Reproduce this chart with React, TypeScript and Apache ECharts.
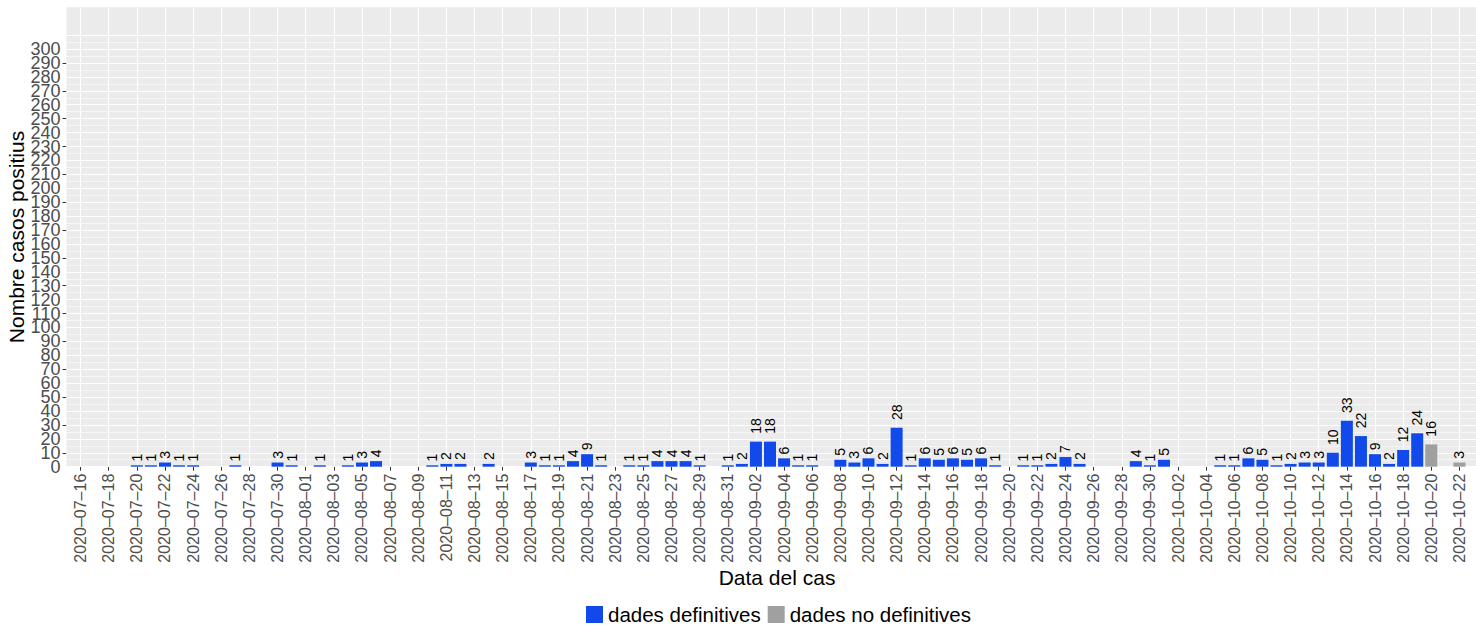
import React, { useEffect, useRef } from "react";
import * as echarts from "echarts";

const dates = [
  "2020-07-16","2020-07-17","2020-07-18","2020-07-19","2020-07-20","2020-07-21","2020-07-22","2020-07-23","2020-07-24","2020-07-25",
  "2020-07-26","2020-07-27","2020-07-28","2020-07-29","2020-07-30","2020-07-31","2020-08-01","2020-08-02","2020-08-03","2020-08-04",
  "2020-08-05","2020-08-06","2020-08-07","2020-08-08","2020-08-09","2020-08-10","2020-08-11","2020-08-12","2020-08-13","2020-08-14",
  "2020-08-15","2020-08-16","2020-08-17","2020-08-18","2020-08-19","2020-08-20","2020-08-21","2020-08-22","2020-08-23","2020-08-24",
  "2020-08-25","2020-08-26","2020-08-27","2020-08-28","2020-08-29","2020-08-30","2020-08-31","2020-09-01","2020-09-02","2020-09-03",
  "2020-09-04","2020-09-05","2020-09-06","2020-09-07","2020-09-08","2020-09-09","2020-09-10","2020-09-11","2020-09-12","2020-09-13",
  "2020-09-14","2020-09-15","2020-09-16","2020-09-17","2020-09-18","2020-09-19","2020-09-20","2020-09-21","2020-09-22","2020-09-23",
  "2020-09-24","2020-09-25","2020-09-26","2020-09-27","2020-09-28","2020-09-29","2020-09-30","2020-10-01","2020-10-02","2020-10-03",
  "2020-10-04","2020-10-05","2020-10-06","2020-10-07","2020-10-08","2020-10-09","2020-10-10","2020-10-11","2020-10-12","2020-10-13",
  "2020-10-14","2020-10-15","2020-10-16","2020-10-17","2020-10-18","2020-10-19","2020-10-20","2020-10-21","2020-10-22",
];

// dades definitives, aligned with dates (null = no bar)
const definitive: (number | null)[] = [
  null, null, null, null, 1, 1, 3, 1, 1, null,
  null, 1, null, null, 3, 1, null, 1, null, 1,
  3, 4, null, null, null, 1, 2, 2, null, 2,
  null, null, 3, 1, 1, 4, 9, 1, null, 1,
  1, 4, 4, 4, 1, null, 1, 2, 18, 18,
  6, 1, 1, null, 5, 3, 6, 2, 28, 1,
  6, 5, 6, 5, 6, 1, null, 1, 1, 2,
  7, 2, null, null, null, 4, 1, 5, null, null,
  null, 1, 1, 6, 5, 1, 2, 3, 3, 10,
  33, 22, 9, 2, 12, 24, null, null, null,
];

// dades no definitives
const provisionalDates = ["2020-10-20", "2020-10-22"];
const provisionalValues = [16, 3];

// y tick labels, split into two interleaved sets
const yTicksEven = [0,20,40,60,80,100,120,140,160,180,200,220,240,260,280,300];
const yTicksOdd = [10,30,50,70,90,110,130,150,170,190,210,230,250,270,290];
const yMinorGrid = [5,15,25,35,45,55,65,75,85,95,105,115,125,135,145,155,165,175,185,195,205,215,225,235,245,255,265,275,285,295,305];
const yMajorGrid = [...yTicksEven, ...yTicksOdd, 310];

const seriesNames = ["dades definitives", "dades no definitives"];
const colors = ["#1149EA", "#A0A0A0"];

const FONT = "'Liberation Sans', Arial, Helvetica, sans-serif";
const LABEL_SIZE = 14;

function barItem(i: number, v: number) {
  const w = String(v).length * 0.556 * LABEL_SIZE;
  return { value: [i, v], label: { distance: w * 0.5 } };
}

function yAxisFor(ticks: number[], withName: boolean) {
  return {
    type: "value",
    min: 0,
    max: 330,
    interval: 10,
    position: "left",
    offset: 0,
    name: withName ? "Nombre casos positius" : "",
    nameLocation: "middle",
    nameGap: 40,
    nameMoveOverlap: false,
    nameTextStyle: { fontSize: 21, color: "#000", fontFamily: FONT },
    axisLine: { show: false },
    axisTick: { show: true, customValues: ticks, length: 4, lineStyle: { color: "#333333", width: 1 } },
    axisLabel: {
      customValues: ticks,
      showMinLabel: true,
      showMaxLabel: true,
      hideOverlap: false,
      margin: 6,
      fontSize: 18,
      color: "#4D4D4D",
      fontFamily: FONT,
    },
    splitLine: { show: false },
  };
}

export default function App() {
  const ref = useRef<HTMLDivElement>(null);
  useEffect(() => {
    if (!ref.current) return;
    const chart = echarts.init(ref.current, null, { renderer: "svg" });
    const labelIdx = dates.map((_, i) => i).filter((i) => i % 2 === 0);
    const defData = definitive
      .map((v, i) => (v == null ? null : barItem(i, v)))
      .filter((d) => d != null);
    const provData = provisionalDates.map((d, k) => barItem(dates.indexOf(d), provisionalValues[k]));
    const barLabel = {
      show: true,
      position: "top",
      rotate: 90,
      align: "left",
      verticalAlign: "middle",
      color: "#000",
      fontSize: LABEL_SIZE,
      fontFamily: FONT,
    };
    chart.setOption({
      animation: false,
      textStyle: { fontFamily: FONT },
      grid: {
        left: 66.5,
        top: 7.3,
        width: 101 * 14.07,
        height: 459.4,
        show: true,
        backgroundColor: "#EBEBEB",
        borderWidth: 0,
        containLabel: false,
        outerBoundsMode: "none",
      },
      legend: {
        data: seriesNames,
        left: 586,
        top: 604,
        padding: 0,
        itemWidth: 17,
        itemHeight: 17,
        itemGap: 7,
        icon: "rect",
        textStyle: { fontSize: 20.5, color: "#000", fontFamily: FONT },
      },
      xAxis: {
        type: "value",
        min: -1,
        max: 100,
        interval: 1,
        name: "Data del cas",
        nameLocation: "middle",
        nameGap: 100,
        nameMoveOverlap: false,
        nameTextStyle: { fontSize: 21, color: "#000", fontFamily: FONT },
        axisLine: { show: false },
        axisTick: { show: true, customValues: labelIdx, length: 4, lineStyle: { color: "#333333", width: 1 } },
        axisLabel: {
          customValues: labelIdx,
          rotate: 90,
          margin: 7,
          fontSize: 16,
          color: "#4D4D4D",
          fontFamily: FONT,
          hideOverlap: false,
          formatter: (v: number) => (dates[v] || "").replace(/-/g, "\u2013"),
        },
        splitLine: { show: true, lineStyle: { color: "#FFFFFF", width: 1 } },
      },
      yAxis: [yAxisFor(yTicksEven, true), yAxisFor(yTicksOdd, false)],
      series: [
        {
          name: seriesNames[0],
          type: "bar",
          barWidth: 12,
          barGap: "-100%",
          z: 2,
          yAxisIndex: 0,
          itemStyle: { color: colors[0] },
          label: barLabel,
          data: defData,
          markLine: {
            silent: true,
            z: 1,
            symbol: ["none", "none"],
            label: { show: false },
            emphasis: { disabled: true },
            lineStyle: { color: "#FFFFFF", type: "solid", width: 1.1 },
            data: [
              ...yMajorGrid.map((y) => ({ yAxis: y, lineStyle: { color: "#FFFFFF", type: "solid", width: 1.1 } })),
              ...yMinorGrid.map((y) => ({ yAxis: y, lineStyle: { color: "#FFFFFF", type: "solid", width: 0.55 } })),
            ],
          },
        },
        {
          name: seriesNames[1],
          type: "bar",
          barWidth: 12,
          barGap: "-100%",
          z: 2,
          yAxisIndex: 0,
          itemStyle: { color: colors[1] },
          label: barLabel,
          data: provData,
        },
      ],
    });
    return () => chart.dispose();
  }, []);
  return (
    <div
      ref={ref}
      style={{ position: "fixed", left: 0, top: 0, width: 1476, height: 625, background: "#FFFFFF" }}
    />
  );
}
